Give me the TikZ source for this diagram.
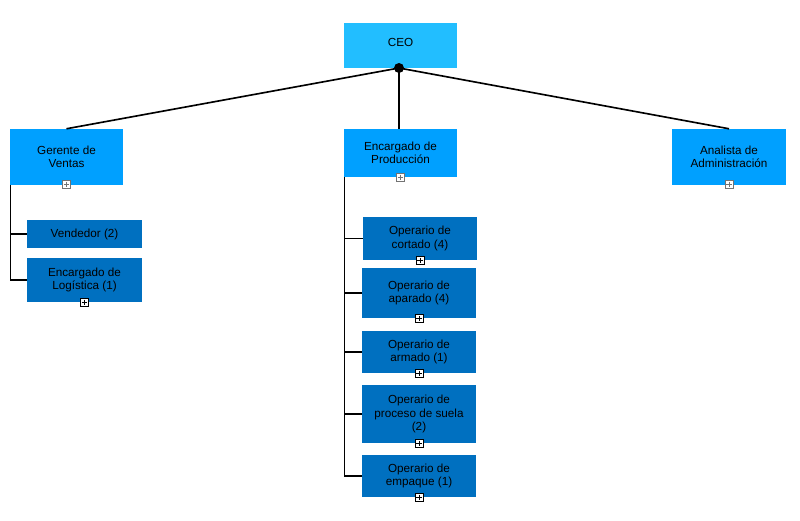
\documentclass[tikz,border=0pt]{standalone}
\usepackage{fontspec}
\setmainfont{Liberation Sans}
\usetikzlibrary{positioning}
\definecolor{clrCeo}{RGB}{34,190,255}
\definecolor{clrJefe}{RGB}{0,160,255}
\definecolor{clrPuesto}{RGB}{0,112,192}
\tikzstyle{box_style0}=[anchor=center, align=center, text=black, inner sep=1pt,
font=\fontsize{10}{11.6}\selectfont]
\tikzstyle{ceo_box}=[box_style0, fill=clrCeo, minimum width=33.9mm, minimum height=13.5mm]
\tikzstyle{jefe_box}=[box_style0, fill=clrJefe, minimum width=33.9mm, minimum height=16.8mm]
\tikzstyle{puesto_box}=[box_style0, fill=clrPuesto, minimum width=34.2mm]
\tikzstyle{plus_mark0}=[fill=white, minimum size=2.4mm, inner sep=0pt, line width=0.4pt,
path picture={\draw[line width=0.4pt] ([yshift=-0.4mm]path picture bounding box.north) -- ([yshift=0.4mm]path picture bounding box.south)
([xshift=0.4mm]path picture bounding box.west) -- ([xshift=-0.4mm]path picture bounding box.east);}]
\tikzstyle{plus_gris}=[plus_mark0, draw=black!55]
\tikzstyle{plus_negro}=[plus_mark0, draw=black]
\tikzstyle{line}=[line width=1.4pt]
\tikzstyle{branch}=[line width=0.9pt]

\begin{document}
\begin{tikzpicture}[x=0.3mm, y=-0.3mm]
		\useasboundingbox (0,0) rectangle (800,521);

		% nivel 1
		\node[ceo_box] (ceo) at (400.5,45.5) {\raisebox{2mm}{CEO}};
		\fill (399,68) circle (1.5mm) coordinate (dot);

		% nivel 2
		\node[jefe_box] (ger) at (66.5,157) {Gerente de\\Ventas};
		\node[jefe_box, minimum height=14.4mm] (prod) at (400.5,153) {Encargado de\\Producción};
		\node[jefe_box, minimum width=34.2mm] (anal) at (729,157) {Analista de\\Administración};
		\draw[line] (dot) -- (ger.north);
		\draw[line] (dot) -- (anal.north);
		\draw[branch] (dot) -- (dot |- prod.north);

		% ventas
		\node[puesto_box, minimum height=8.4mm] (vend) at (84.5,234) {Vendedor (2)};
		\node[puesto_box, minimum height=13.2mm] (logi) at (84.5,280) {Encargado de\\Logística (1)};
		\draw[branch] ([xshift=0.3mm]ger.south west) |- (vend.west);
		\draw[branch] ([xshift=0.3mm]ger.south west) |- (logi.west);

		% produccion
		\node[puesto_box, minimum height=12.9mm] (cort) at (420,238.5) {Operario de\\cortado (4)};
		\node[puesto_box, minimum height=15mm] (apar) at (419,293) {Operario de\\aparado (4)};
		\node[puesto_box, minimum height=12.6mm] (arma) at (419,352) {Operario de\\armado (1)};
		\node[puesto_box, minimum height=17.4mm] (suel) at (419,414) {Operario de\\proceso de suela\\(2)};
		\node[puesto_box, minimum height=12.6mm] (empa) at (419,476) {Operario de\\empaque (1)};
		\foreach \p in {cort,apar,arma,suel,empa}
			\draw[branch] ([xshift=0.3mm]prod.south west) |- (\p.west);

		% marcas de expansion
		\node[plus_gris] (pger) at ([yshift=0.3mm]ger.south) {};
		\node[plus_gris] (pprod) at (prod.south) {};
		\node[plus_gris] (panal) at ([yshift=0.3mm]anal.south) {};
		\node[plus_negro] (plogi) at (logi.south) {};
		\node[plus_negro] (pcort) at (cort.south) {};
		\node[plus_negro] (papar) at (apar.south) {};
		\node[plus_negro] (parma) at (arma.south) {};
		\node[plus_negro] (psuel) at (suel.south) {};
		\node[plus_negro] (pempa) at (empa.south) {};

	\end{tikzpicture}
\end{document}
